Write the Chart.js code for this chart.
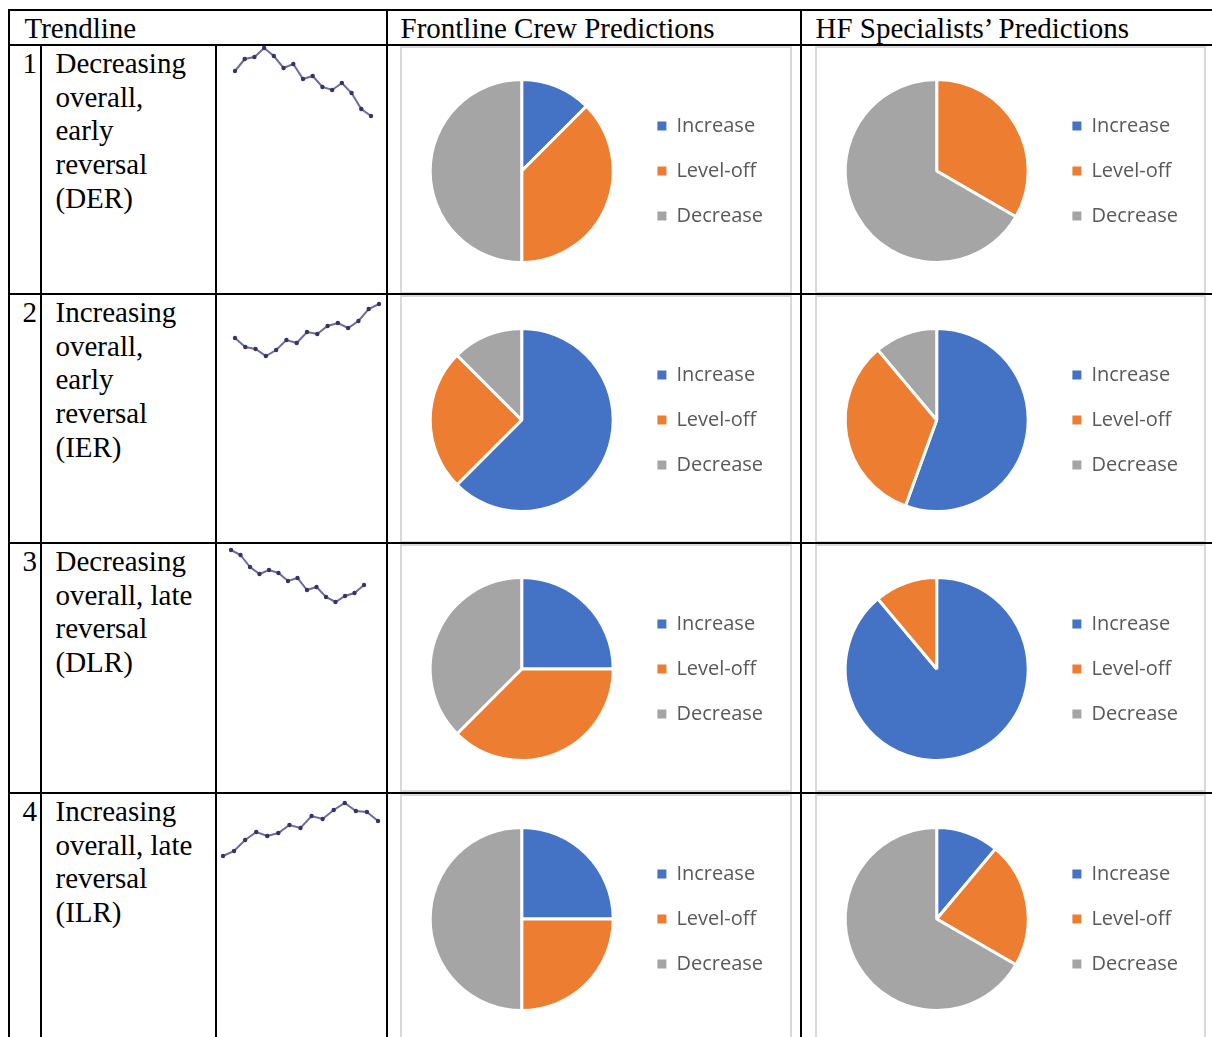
<!DOCTYPE html>
<html lang="en">
<head>
<meta charset="UTF-8">
<title>Trendline predictions</title>
<script src="https://cdn.jsdelivr.net/npm/chart.js"></script>
<style>
    body {
        margin: 0;
        background: #fff;
        width: 1212px;
        height: 1037px;
        overflow: hidden;
        position: relative;
        font-family: "Liberation Serif", "Times New Roman", serif;
    }
    .ln { position: absolute; background: #000; }
    .txt {
        position: absolute;
        font-size: 29px;
        line-height: 33.7px;
        color: #000;
        white-space: nowrap;
    }
    .num { text-align: right; width: 28px; }
    .frame {
        position: absolute;
        border: 2px solid #d9d9d9;
        box-sizing: border-box;
    }
    canvas { position: absolute; }
</style>
</head>
<body>
<script>
    // ---- data ----
    var headers = ['Trendline', 'Frontline Crew Predictions', 'HF Specialists\u2019 Predictions'];
    var trendNames = [
        ['Decreasing', 'overall,', 'early', 'reversal', '(DER)'],
        ['Increasing', 'overall,', 'early', 'reversal', '(IER)'],
        ['Decreasing', 'overall, late', 'reversal', '(DLR)'],
        ['Increasing', 'overall, late', 'reversal', '(ILR)']
    ];
    var outcomes = ['Increase', 'Level-off', 'Decrease'];

    // counts per outcome (Increase, Level-off, Decrease)
    var frontlineDER = [1, 3, 4];
    var frontlineIER = [5, 2, 1];
    var frontlineDLR = [2, 3, 3];
    var frontlineILR = [2, 2, 4];
    var hfDER = [0, 1, 2];
    var hfIER = [5, 3, 1];
    var hfDLR = [8, 1, 0];
    var hfILR = [1, 2, 6];

    // sparkline values
    var sparkDER = [49, 61, 63, 72, 64, 52, 56, 41, 44, 33, 30, 37, 27, 11, 4];
    var sparkIER = [22, 13, 11, 4, 10, 20, 17, 28, 26, 34, 37, 32, 39, 51, 56];
    var sparkDLR = [60, 55, 43, 36, 40, 37, 29, 32, 20, 23, 13, 8, 14, 17, 25];
    var sparkILR = [4, 9, 20, 28, 24, 27, 35, 32, 44, 41, 50, 57, 49, 48, 39];

    var frontline = [frontlineDER, frontlineIER, frontlineDLR, frontlineILR];
    var hf = [hfDER, hfIER, hfDLR, hfILR];
    var sparks = [sparkDER, sparkIER, sparkDLR, sparkILR];
    var pieColors = ['#4472C4', '#ED7D31', '#A5A5A5'];

    // ---- layout ----
    var rowLines = [45, 294, 543, 793];
    var rowH = 249;
    // sparkline extents: first/last point x, top/bottom y
    var sparkBox = [
        {x0: 235, x1: 371, y0: 48, y1: 116},
        {x0: 235, x1: 379, y0: 304, y1: 356},
        {x0: 231, x1: 364, y0: 550, y1: 602},
        {x0: 223, x1: 378, y0: 803, y1: 856}
    ];

    function el(tag, cls, css, text) {
        var e = document.createElement(tag);
        if (cls) e.className = cls;
        Object.assign(e.style, css);
        if (text != null) e.textContent = text;
        document.body.appendChild(e);
        return e;
    }

    // chart frames (drawn under the table lines)
    rowLines.forEach(function(r) {
        el('div', 'frame', {left: '400px', top: (r + 1) + 'px', width: '392px', height: (rowH - 1) + 'px'});
        el('div', 'frame', {left: '815px', top: (r + 1) + 'px', width: '391px', height: (rowH - 1) + 'px'});
    });

    // table lines
    function hline(x, y, w) { el('div', 'ln', {left: x + 'px', top: (y - 1) + 'px', width: w + 'px', height: '2px'}); }
    function vline(x, y, h) { el('div', 'ln', {left: (x - 1) + 'px', top: y + 'px', width: '2px', height: h + 'px'}); }
    hline(8, 10, 1204);
    rowLines.forEach(function(r) { hline(8, r, 1204); });
    vline(9, 9, 1030);
    vline(41, 45, 1000);
    vline(216, 45, 1000);
    vline(387, 9, 1030);
    vline(801, 9, 1030);

    // header text
    el('div', 'txt', {left: '24.5px', top: '11.5px'}, headers[0]);
    el('div', 'txt', {left: '400.5px', top: '11.5px'}, headers[1]);
    el('div', 'txt', {left: '815.5px', top: '11.5px'}, headers[2]);

    // row text
    rowLines.forEach(function(r, i) {
        el('div', 'txt num', {left: '9px', top: (r + 1.8) + 'px'}, String(i + 1));
        var t = el('div', 'txt', {left: '55.5px', top: (r + 1.8) + 'px'});
        t.innerHTML = trendNames[i].join('<br>');
    });

    // sparklines
    sparks.forEach(function(vals, i) {
        var b = sparkBox[i], pad = 4;
        var c = el('canvas', null, {left: (b.x0 - pad) + 'px', top: (b.y0 - pad) + 'px'});
        c.width = b.x1 - b.x0 + 2 * pad;
        c.height = b.y1 - b.y0 + 2 * pad;
        new Chart(c, {
            type: 'line',
            data: {
                labels: vals.map(function(v, k) { return k + 1; }),
                datasets: [{
                    data: vals,
                    borderColor: '#6c6c9e',
                    borderWidth: 2,
                    pointRadius: 2.2,
                    pointBackgroundColor: '#33336e',
                    pointBorderWidth: 0,
                    tension: 0,
                    clip: false
                }]
            },
            options: {
                responsive: false,
                animation: false,
                layout: {padding: pad},
                plugins: {legend: {display: false}, tooltip: {enabled: false}},
                scales: {
                    x: {display: false},
                    y: {display: false, min: Math.min.apply(null, vals), max: Math.max.apply(null, vals)}
                }
            }
        });
    });

    // pies
    var baseLabels = (Chart.overrides.doughnut || Chart.overrides.pie).plugins.legend.labels.generateLabels;
    function makePie(left, top, counts) {
        var c = el('canvas', null, {left: left + 'px', top: top + 'px'});
        c.width = 387;
        c.height = 246;
        new Chart(c, {
            type: 'pie',
            data: {
                labels: outcomes,
                datasets: [{
                    data: counts,
                    backgroundColor: pieColors,
                    borderColor: '#ffffff',
                    borderWidth: 3
                }]
            },
            options: {
                responsive: false,
                animation: false,
                radius: 91.5,
                layout: {padding: {left: 9, right: 16, top: 2, bottom: 0}},
                plugins: {
                    tooltip: {enabled: false},
                    legend: {
                        position: 'right',
                        labels: {
                            boxWidth: 9,
                            boxHeight: 9,
                            padding: 25,
                            color: '#595959',
                            font: {family: 'Open Sans', size: 20},
                            generateLabels: function(chart) {
                                var items = baseLabels(chart);
                                items.forEach(function(it) { it.lineWidth = 0; it.strokeStyle = 'rgba(0,0,0,0)'; });
                                return items;
                            }
                        }
                    }
                }
            }
        });
    }
    rowLines.forEach(function(r, i) {
        makePie(402, r + 2, frontline[i]);
        makePie(817, r + 2, hf[i]);
    });
</script>
</body>
</html>
